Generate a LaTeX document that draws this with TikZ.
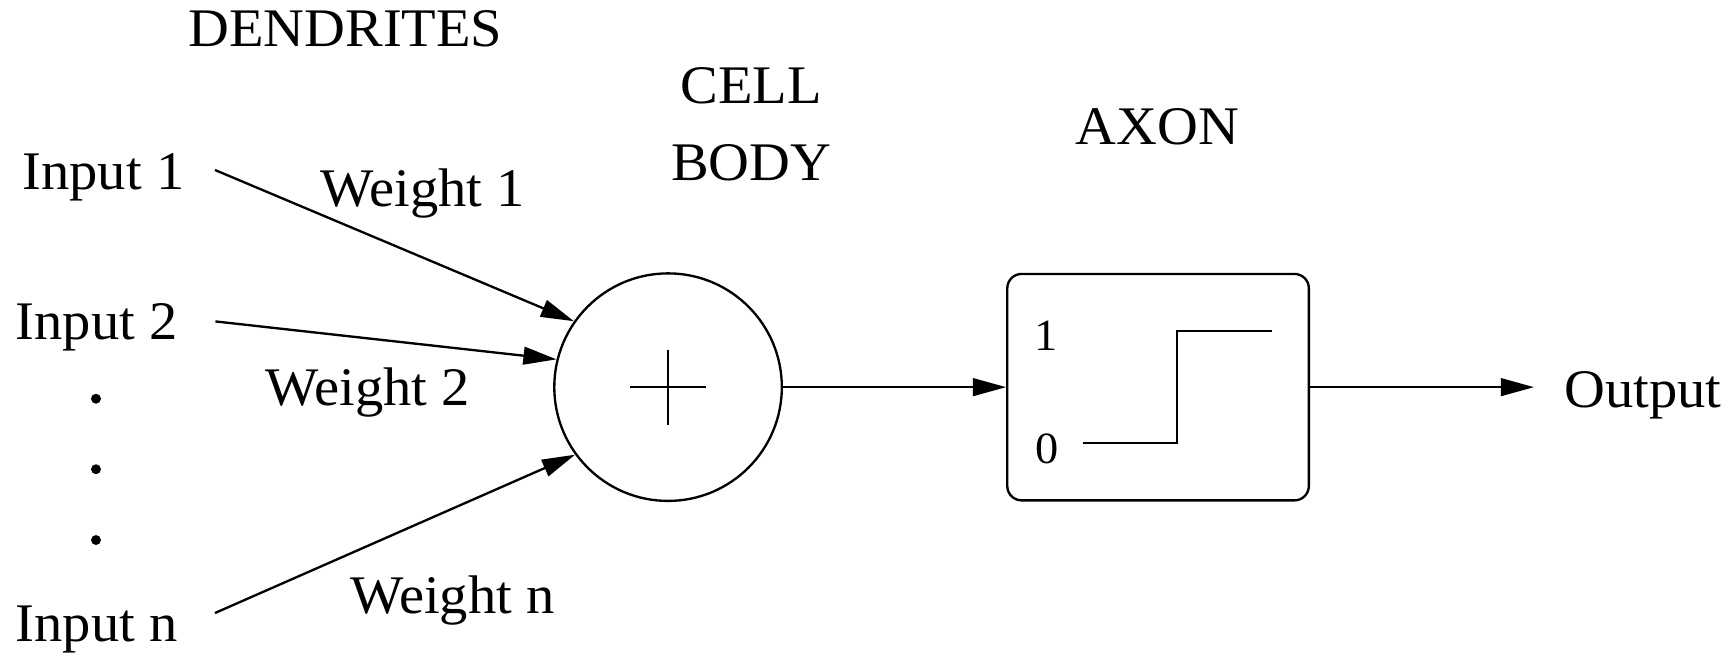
\documentclass[tikz,border=0pt]{standalone}
\usepackage{fontspec}
\setmainfont{Liberation Serif}[FakeStretch=1.04]
\usetikzlibrary{arrows.meta,calc}

\begin{document}
\begin{tikzpicture}[lbl/.style={font=\fontsize{14}{19.6}\selectfont,inner sep=0pt},
        digit/.style={font=\fontsize{11.5}{13}\selectfont,inner sep=0pt},
        arrow/.style={-{Triangle[length=0.3cm,width=0.16cm]},line width=0.6pt},
        body/.style={draw,circle,line width=0.6pt,minimum size=2.06cm,inner sep=0pt},
        axonbox/.style={draw,rounded corners=0.13cm,line width=0.6pt,minimum width=2.73cm,minimum height=2.05cm},
        dot/.style={circle,fill,inner sep=0pt,minimum size=0.09cm}]
    \useasboundingbox (0,0) rectangle (15.68,5.98);
    % headings
    \node[lbl] (dend) at (3.127,5.72) {DENDRITES};
    \node[lbl,align=center] (cell) at (6.80,4.855) {CELL\\BODY};
    \node[lbl] (axon) at (10.48,4.835) {AXON};
    % inputs and weights
    \node[lbl,anchor=base] (in1) at (0.937,4.26) {Input 1};
    \node[lbl,anchor=base] (in2) at (0.874,2.905) {Input 2};
    \node[lbl,anchor=base] (inn) at (0.874,0.175) {Input n};
    \foreach \y/\n in {2.37/1,1.732/2,1.091/3} \node[dot] (d\n) at (0.869,\y) {};
    \node[lbl,anchor=base] (w1) at (3.825,4.11) {Weight 1};
    \node[lbl,anchor=base] (w2) at (3.33,2.312) {Weight 2};
    \node[lbl,anchor=base] (wn) at (4.095,0.422) {Weight n};
    \coordinate (t1) at (1.946,4.441);
    \coordinate (t2) at (1.95,3.07);
    \coordinate (tn) at (1.946,0.43);
    % cell body
    \node[body] (cb) at (6.048,2.475) {};
    \draw[line width=0.6pt] ($(cb)+(-0.345,0)$) -- ($(cb)+(0.345,0)$) ($(cb)+(0,-0.34)$) -- ($(cb)+(0,0.34)$);
    % axon
    \node[axonbox] (ax) at (10.484,2.475) {};
    \node[digit,anchor=base] (one) at (9.47,2.81) {1};
    \node[digit,anchor=base] (zero) at (9.475,1.78) {0};
    \draw[line width=0.6pt] (9.805,1.97) -- (10.656,1.97) -- (10.656,2.984) -- (11.515,2.984);
    \node[lbl,anchor=base] (out) at (14.875,2.294) {Output};
    \draw[arrow] (t1) -- (cb.145); \draw[arrow] (t2) -- (cb.166); \draw[arrow] (tn) -- (cb.216);
    \draw[arrow] (cb.east) -- (ax.west);
    \draw[arrow,shorten >=0.27cm] (ax.east) -- (ax.east -| out.west);
\end{tikzpicture}
\end{document}
